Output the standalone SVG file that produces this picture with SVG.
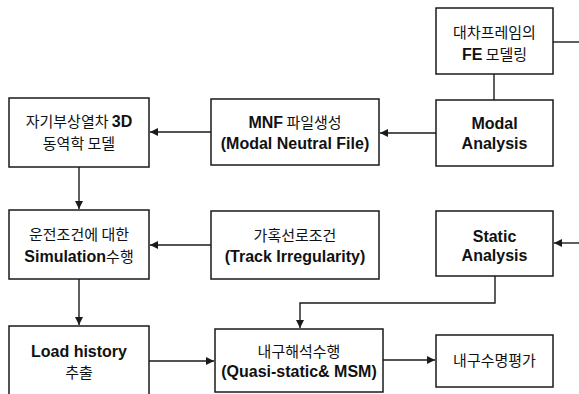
<svg xmlns="http://www.w3.org/2000/svg" width="579" height="394" viewBox="0 0 579 394">
<defs>
<style>
.box{fill:#fff;stroke:#1a1a1a;stroke-width:1.5}
.t{font-family:"Noto Sans CJK KR","Liberation Sans",sans-serif;font-size:15px;fill:#111;text-anchor:middle}
.b{font-family:"Liberation Sans","Noto Sans CJK KR",sans-serif;font-weight:bold;font-size:16px}
.c{fill:none;stroke:#1a1a1a;stroke-width:1.4}
</style>
<marker id="ah" viewBox="0 0 10 10" refX="10" refY="5" markerWidth="8" markerHeight="8" markerUnits="userSpaceOnUse" orient="auto">
<path d="M0,0 L10,5 L0,10 z" fill="#1a1a1a"/>
</marker>
</defs>
<rect width="579" height="394" fill="#fff"/>
<g id="connectors">
<line class="c" x1="553" y1="42" x2="579" y2="42"/>
<line class="c" x1="494" y1="74" x2="494" y2="100"/>
<line class="c" x1="436" y1="133" x2="380" y2="133" marker-end="url(#ah)"/>
<line class="c" x1="211" y1="132" x2="150" y2="132" marker-end="url(#ah)"/>
<line class="c" x1="79" y1="167" x2="79" y2="209" marker-end="url(#ah)"/>
<line class="c" x1="211" y1="245" x2="150" y2="245" marker-end="url(#ah)"/>
<line class="c" x1="579" y1="243" x2="554" y2="243" marker-end="url(#ah)"/>
<line class="c" x1="79" y1="279" x2="79" y2="325" marker-end="url(#ah)"/>
<polyline class="c" points="495,276 495,303 300,303 300,328" marker-end="url(#ah)"/>
<line class="c" x1="149" y1="361" x2="214" y2="361" marker-end="url(#ah)"/>
<line class="c" x1="383" y1="360" x2="435" y2="360" marker-end="url(#ah)"/>
</g>
<g id="fe-model">
<rect class="box" x="436" y="8" width="117" height="66"/>
<text class="t" x="494.5" y="38">대차프레임의</text>
<text class="t" x="494.5" y="60"><tspan class="b">FE</tspan> 모델링</text>
</g>
<g id="modal-analysis">
<rect class="box" x="436" y="100" width="117" height="66"/>
<text class="t b" x="494.5" y="129">Modal</text>
<text class="t b" x="494.5" y="149">Analysis</text>
</g>
<g id="mnf">
<rect class="box" x="211" y="99" width="168" height="66"/>
<text class="t" x="295" y="128"><tspan class="b">MNF</tspan> 파일생성</text>
<text class="t b" x="295" y="149">(Modal Neutral File)</text>
</g>
<g id="maglev-3d">
<rect class="box" x="9" y="98" width="140" height="69"/>
<text class="t" x="79" y="127">자기부상열차 <tspan class="b">3D</tspan></text>
<text class="t" x="79" y="149">동역학 모델</text>
</g>
<g id="simulation">
<rect class="box" x="9" y="210" width="140" height="69"/>
<text class="t" x="79" y="240">운전조건에 대한</text>
<text class="t" x="79" y="262"><tspan class="b">Simulation</tspan>수행</text>
</g>
<g id="track">
<rect class="box" x="211" y="211" width="168" height="68"/>
<text class="t" x="295" y="241">가혹선로조건</text>
<text class="t b" x="295" y="262">(Track Irregularity)</text>
</g>
<g id="static-analysis">
<rect class="box" x="436" y="211" width="117" height="65"/>
<text class="t b" x="494.5" y="242">Static</text>
<text class="t b" x="494.5" y="261">Analysis</text>
</g>
<g id="load-history">
<rect class="box" x="9" y="326" width="140" height="80"/>
<text class="t b" x="79" y="357">Load history</text>
<text class="t" x="79" y="378">추출</text>
</g>
<g id="durability-analysis">
<rect class="box" x="215" y="329" width="168" height="63"/>
<text class="t" x="299" y="357">내구해석수행</text>
<text class="t b" x="299" y="377">(Quasi-static&amp; MSM)</text>
</g>
<g id="life-evaluation">
<rect class="box" x="436" y="335" width="117" height="52"/>
<text class="t" x="494.5" y="366">내구수명평가</text>
</g>
</svg>
